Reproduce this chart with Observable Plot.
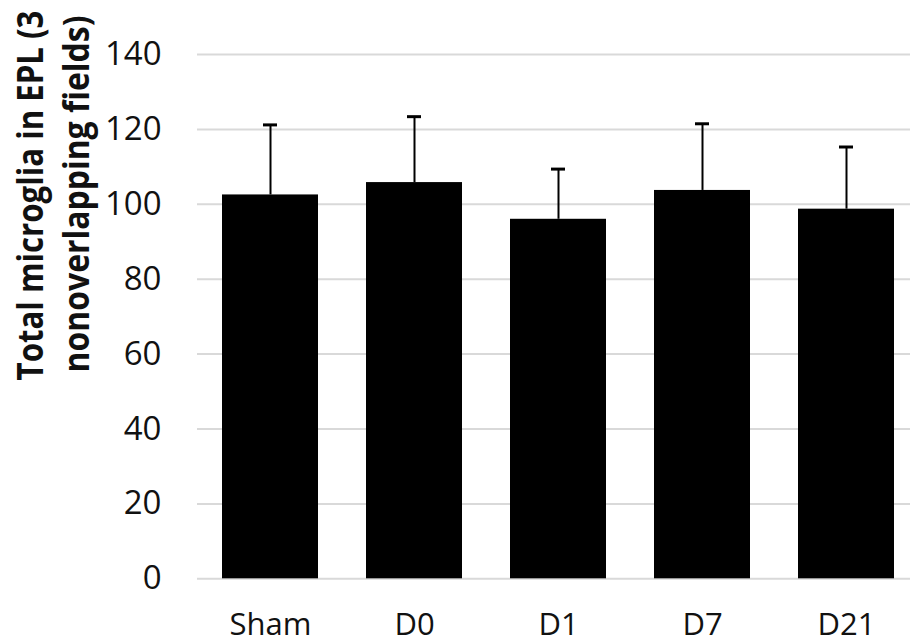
<!DOCTYPE html>
<html><head><meta charset="utf-8">
<script src="https://cdn.jsdelivr.net/npm/d3@7"></script>
<script src="https://cdn.jsdelivr.net/npm/@observablehq/plot@0.6"></script>
<style>body{margin:0;background:#fff;} svg{display:block}</style>
</head><body><div id="chart"></div>
<script>
const groups = ["Sham", "D0", "D1", "D7", "D21"];
const means = [102.5, 105.8, 96.0, 103.7, 98.7];
const upper = [121.2, 123.4, 109.4, 121.5, 115.3];
const yTicks = [0, 20, 40, 60, 80, 100, 120, 140];
const yLabelLine1 = ["Total microglia in EPL (3"];
const yLabelLine2 = ["nonoverlapping fields)"];

const data = groups.map((g, i) => ({group: g, mean: means[i], upper: upper[i]}));

const chart = Plot.plot({
  width: 910, height: 643,
  marginLeft: 197, marginRight: 0, marginTop: 54, marginBottom: 64.7,
  style: {fontFamily: "'Open Sans', sans-serif", fontSize: "30px", color: "#111", background: "#fff", overflow: "visible"},
  x: {domain: groups, range: [197, 920], paddingInner: 0.33, paddingOuter: 0.165, label: null},
  y: {domain: [0, 140], ticks: yTicks, label: null},
  marks: [
    Plot.ruleY(yTicks, {stroke: "#d9d9d9", strokeWidth: 2}),
    Plot.barY(data, {x: "group", y: "mean", fill: "#000"}),
    Plot.ruleX(data, {x: "group", y1: "mean", y2: "upper", stroke: "#000", strokeWidth: 2}),
    Plot.tickY(data, {x: "group", y: "upper", stroke: "#000", strokeWidth: 3, insetLeft: 41, insetRight: 41}),
    Plot.axisY({ticks: yTicks, tickSize: 0, tickPadding: 36, label: null, fontSize: 33}),
    Plot.axisX({tickSize: 0, tickPadding: 34, label: null, fontSize: 31}),
    Plot.text(yLabelLine1, {text: d => d, frameAnchor: "top-left", rotate: -90, textAnchor: "middle", lineAnchor: "bottom", dx: -155, dy: 141, fontWeight: "bold", fontSize: 36, fill: "#111"}),
    Plot.text(yLabelLine2, {text: d => d, frameAnchor: "top-left", rotate: -90, textAnchor: "middle", lineAnchor: "bottom", dx: -109, dy: 139.5, fontWeight: "bold", fontSize: 36, fill: "#111"})
  ]
});
document.getElementById("chart").appendChild(chart);
// condense the bold axis-title lines horizontally (Calibri-like narrow look)
const lens = [370, 357];
chart.querySelectorAll('g[aria-label="text"] text').forEach((t, i) => {
  const natural = t.getComputedTextLength();
  const k = lens[i] / natural;
  const tr = t.getAttribute("transform") || "";
  t.setAttribute("transform", tr + ` scale(${k.toFixed(4)},1)`);
});
</script>
</body></html>
